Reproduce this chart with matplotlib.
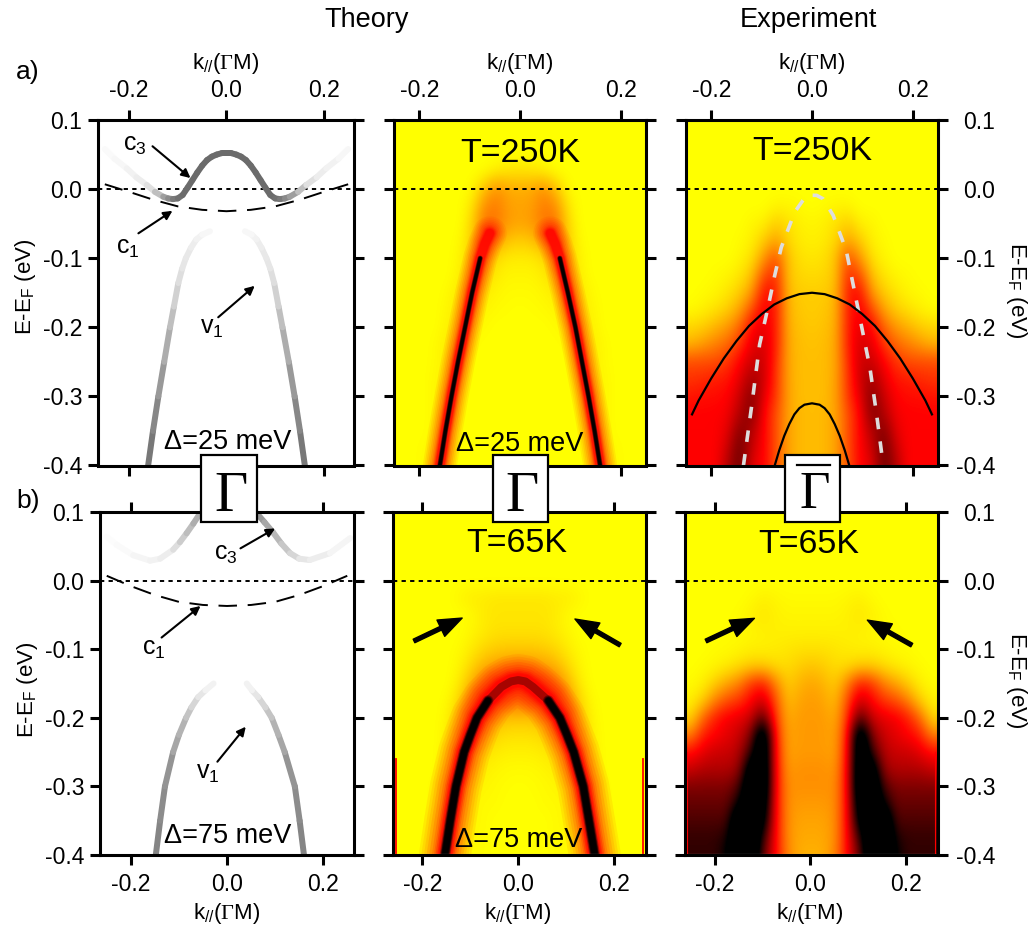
import matplotlib
matplotlib.use('Agg')
import matplotlib.pyplot as plt
import numpy as np
from matplotlib.collections import LineCollection
from matplotlib.colors import LinearSegmentedColormap
from matplotlib.patches import Rectangle

plt.rcParams['font.family'] = ['Liberation Sans', 'DejaVu Sans']
plt.rcParams['mathtext.fontset'] = 'custom'
plt.rcParams['mathtext.rm'] = 'Liberation Serif'
plt.rcParams['mathtext.sf'] = 'Liberation Sans'

W, H = 1036, 931

# Theory panel a), half bands (mirrored about k=0)
c3a_k = [0.25, 0.23, 0.205, 0.185, 0.164, 0.147, 0.13, 0.12, 0.11, 0.10, 0.09, 0.08, 0.07, 0.06, 0.05, 0.04, 0.03, 0.02, 0.01, 0.0]
c3a_E = [0.058, 0.044, 0.030, 0.017, 0.006, -0.004, -0.011, -0.0135, -0.0145, -0.0135, -0.0085, 0.002, 0.013, 0.024, 0.034, 0.042, 0.047, 0.050, 0.052, 0.052]
c3a_g = [0.98, 0.97, 0.95, 0.93, 0.88, 0.75, 0.62, 0.54, 0.48, 0.44, 0.42, 0.42, 0.42, 0.42, 0.42, 0.42, 0.42, 0.42, 0.42, 0.42]
c1a_k = [0.25, 0.2, 0.15, 0.1, 0.05, 0.0]
c1a_E = [0.007, -0.004, -0.0155, -0.025, -0.03, -0.032]
v1a_E = [-0.4, -0.35, -0.3, -0.25, -0.2, -0.17, -0.136, -0.115, -0.1, -0.085, -0.073, -0.066, -0.061]
v1a_kl = [-0.161, -0.151, -0.14, -0.128, -0.116, -0.108, -0.099, -0.091, -0.0835, -0.073, -0.062, -0.05, -0.034]
v1a_kr = [0.161, 0.151, 0.14, 0.128, 0.115, 0.107, 0.098, 0.09, 0.082, 0.072, 0.062, 0.052, 0.038]
v1a_g = [0.47, 0.53, 0.6, 0.68, 0.75, 0.82, 0.87, 0.9, 0.91, 0.93, 0.95, 0.97, 0.985]

# Theory panel b)
c3b_kl = [-0.25, -0.229, -0.195, -0.16, -0.139, -0.112, -0.098, -0.084, -0.07, -0.056]
c3b_El = [0.064, 0.052, 0.037, 0.029, 0.032, 0.045, 0.056, 0.069, 0.083, 0.098]
c3b_kr = [0.062, 0.078, 0.096, 0.113, 0.131, 0.15, 0.172, 0.214, 0.256]
c3b_Er = [0.098, 0.085, 0.07, 0.054, 0.04, 0.032, 0.03, 0.04, 0.062]
c3b_gl = [0.99, 0.98, 0.96, 0.95, 0.93, 0.87, 0.8, 0.74, 0.68, 0.6]
c3b_gr = [0.6, 0.66, 0.72, 0.78, 0.84, 0.9, 0.93, 0.96, 0.985]
c1b_k = [0.25, 0.2, 0.15, 0.1, 0.05, 0.0]
c1b_E = [0.007, -0.008, -0.021, -0.031, -0.0355, -0.037]
v1b_E = [-0.4, -0.35, -0.3, -0.25, -0.225, -0.2, -0.185, -0.17, -0.16, -0.15]
v1b_kl = [-0.148, -0.139, -0.129, -0.112, -0.1, -0.085, -0.074, -0.06, -0.045, -0.028]
v1b_kr = [0.16, 0.151, 0.141, 0.12, 0.107, 0.093, 0.08, 0.065, 0.052, 0.041]
v1b_g = [0.52, 0.55, 0.58, 0.65, 0.7, 0.77, 0.84, 0.9, 0.95, 0.985]

# Simulated bands, drawn as a glow
band250_E = [-0.4, -0.35, -0.3, -0.25, -0.2, -0.15, -0.1, -0.08, -0.064]
band250_kl = [-0.159, -0.148, -0.136, -0.123, -0.109, -0.095, -0.079, -0.07, -0.06]
band250_kr = [0.159, 0.148, 0.136, 0.123, 0.11, 0.095, 0.079, 0.07, 0.06]
band65_k = [-0.153, -0.142, -0.13, -0.113, -0.1, -0.086, -0.063, -0.035, -0.015, 0.0, 0.015, 0.031, 0.063, 0.087, 0.102, 0.116, 0.136, 0.148, 0.16]
band65_E = [-0.4, -0.35, -0.3, -0.25, -0.225, -0.2, -0.175, -0.155, -0.147, -0.145, -0.147, -0.155, -0.175, -0.2, -0.225, -0.25, -0.3, -0.35, -0.4]

# Lines over the T=250K data
white_k = [-0.136, -0.119, -0.104, -0.0875, -0.074, -0.061, -0.0345, -0.011, 0.009, 0.022, 0.042, 0.068, 0.091, 0.115, 0.128, 0.141]
white_E = [-0.4, -0.31, -0.225, -0.172, -0.125, -0.0845, -0.0335, -0.009, -0.009, -0.014, -0.038, -0.089, -0.172, -0.259, -0.325, -0.398]
outer_k = [-0.238, -0.225, -0.2, -0.175, -0.15, -0.125, -0.1, -0.075, -0.05, -0.025, 0.0,
           0.025, 0.05, 0.075, 0.1, 0.125, 0.15, 0.175, 0.2, 0.225, 0.238]
outer_E = [-0.326, -0.306, -0.274, -0.245, -0.22, -0.198, -0.181, -0.167, -0.158, -0.152, -0.15,
           -0.152, -0.158, -0.167, -0.181, -0.198, -0.22, -0.245, -0.274, -0.306, -0.326]
inner_k = [-0.074, -0.065, -0.055, -0.045, -0.035, -0.025, -0.015, 0.0, 0.015, 0.025, 0.035, 0.045, 0.055, 0.065, 0.074]
inner_E = [-0.4, -0.378, -0.357, -0.34, -0.326, -0.317, -0.312, -0.31, -0.312, -0.317, -0.326, -0.34, -0.357, -0.378, -0.4]

# Intensity grids, 0 yellow, 5 red, 10 and above black
# columns k = 0, 0.025 ... 0.25 (mirrored), rows E = 0.1, 0.075 ... -0.4
grid_sim250 = [
    [0, 0, 0, 0, 0, 0, 0, 0, 0, 0, 0],
    [0, 0, 0, 0, 0, 0, 0, 0, 0, 0, 0],
    [0, 0, 0, 0, 0, 0, 0, 0, 0, 0, 0],
    [0.6, 0.5, 0.3, 0, 0, 0, 0, 0, 0, 0, 0],
    [1.6, 1.7, 2.2, 1.2, 0.1, 0, 0, 0, 0, 0, 0],
    [1.8, 1.9, 2.6, 2.2, 0.5, 0, 0, 0, 0, 0, 0],
    [1.8, 2, 2.8, 2.8, 0.8, 0, 0, 0, 0, 0, 0],
    [1, 1.2, 2, 2.8, 1, 0.1, 0, 0, 0, 0, 0],
    [0.4, 0.4, 0.7, 1.5, 1, 0.2, 0, 0, 0, 0, 0],
    [0.2, 0.2, 0.4, 0.8, 1, 0.3, 0, 0, 0, 0, 0],
    [0.1, 0.1, 0.2, 0.4, 0.8, 0.5, 0.1, 0, 0, 0, 0],
    [0, 0.05, 0.1, 0.2, 0.4, 0.5, 0.2, 0, 0, 0, 0],
    [0, 0, 0, 0.1, 0.2, 0.4, 0.3, 0, 0, 0, 0],
    [0, 0, 0, 0, 0.1, 0.3, 0.4, 0.1, 0, 0, 0],
    [0, 0, 0, 0, 0, 0.2, 0.4, 0.1, 0, 0, 0],
    [0, 0, 0, 0, 0, 0.1, 0.3, 0.2, 0, 0, 0],
    [0, 0, 0, 0, 0, 0, 0.2, 0.2, 0, 0, 0],
    [0, 0, 0, 0, 0, 0, 0.2, 0.2, 0, 0, 0],
    [0, 0, 0, 0, 0, 0, 0.1, 0.2, 0, 0, 0],
    [0, 0, 0, 0, 0, 0, 0.1, 0.2, 0.1, 0, 0],
    [0, 0, 0, 0, 0, 0, 0.1, 0.2, 0.1, 0, 0],
]
grid_exp250 = [
    [0, 0, 0, 0, 0, 0, 0, 0, 0, 0, 0],
    [0, 0, 0, 0, 0, 0, 0, 0, 0, 0, 0],
    [0, 0, 0, 0, 0, 0, 0, 0, 0, 0, 0],
    [0, 0, 0, 0, 0, 0, 0, 0, 0, 0, 0],
    [0, 0, 0, 0, 0, 0, 0, 0, 0, 0, 0],
    [0, 0.1, 0.2, 0.2, 0, 0, 0, 0, 0, 0, 0],
    [0.2, 0.3, 0.6, 1, 0.3, 0.2, 0, 0, 0, 0, 0],
    [0.3, 0.4, 0.8, 1.8, 1, 0.3, 0.1, 0, 0, 0, 0],
    [0.5, 0.6, 1.2, 3.5, 2, 0.6, 0.2, 0, 0, 0, 0],
    [0.7, 0.8, 1.2, 4.2, 3.5, 1.2, 0.5, 0.2, 0.1, 0, 0],
    [1, 1, 1.4, 4.5, 4.8, 2, 1, 0.5, 0.2, 0.1, 0],
    [1, 1.1, 1.5, 4.5, 5.2, 3.5, 1.8, 1, 0.6, 0.3, 0.1],
    [1.1, 1.2, 1.6, 4.5, 5.5, 5, 3, 2, 1.5, 1, 0.8],
    [1.2, 1.3, 1.7, 4.5, 5.8, 5.5, 4, 3, 2.5, 2, 1.5],
    [1.3, 1.3, 1.7, 4.2, 6, 6, 5, 4, 3.5, 3.5, 3.5],
    [1.3, 1.3, 1.8, 4, 6, 6.8, 5.5, 4.6, 4.5, 4.2, 4],
    [1.3, 1.3, 1.8, 4, 5.5, 7.5, 6, 5, 4.8, 4.8, 4.6],
    [1.3, 1.4, 1.8, 3.5, 5, 7.5, 6.5, 5.2, 5, 5, 5],
    [1.3, 1.4, 1.8, 3.5, 5, 6.5, 7.5, 5.5, 5, 5, 5],
    [1.3, 1.4, 1.8, 3.5, 5, 6, 8, 6, 5, 5, 5],
    [1.3, 1.4, 1.8, 3.5, 5, 5.5, 8, 6.5, 5, 5, 5],
]
grid_sim65 = [
    [0, 0, 0, 0, 0, 0, 0, 0, 0, 0, 0],
    [0, 0, 0, 0, 0, 0, 0, 0, 0, 0, 0],
    [0, 0, 0, 0, 0, 0, 0, 0, 0, 0, 0],
    [0, 0, 0, 0, 0, 0, 0, 0, 0, 0, 0],
    [0, 0, 0, 0, 0, 0, 0, 0, 0, 0, 0],
    [0.5, 0.5, 0.5, 0.4, 0.4, 0.2, 0, 0, 0, 0, 0],
    [0.5, 0.5, 0.5, 0.4, 0.1, 0, 0, 0, 0, 0, 0],
    [0.6, 0.6, 0.6, 0.4, 0.2, 0, 0, 0, 0, 0, 0],
    [1.1, 1.1, 1, 0.8, 0.4, 0.1, 0, 0, 0, 0, 0],
    [2.2, 2.1, 1.9, 1.5, 0.8, 0.2, 0, 0, 0, 0, 0],
    [3.5, 3.5, 3.5, 2.8, 1.5, 0.4, 0, 0, 0, 0, 0],
    [3, 3, 3.2, 3.5, 2.5, 0.8, 0.1, 0, 0, 0, 0],
    [1.2, 1.2, 1.6, 2.4, 2.6, 1.2, 0.2, 0, 0, 0, 0],
    [0.6, 0.6, 0.8, 1.2, 1.8, 1.3, 0.3, 0, 0, 0, 0],
    [0.3, 0.3, 0.4, 0.6, 1, 1.2, 0.4, 0, 0, 0, 0],
    [0.1, 0.1, 0.2, 0.3, 0.6, 1, 0.6, 0, 0, 0, 0],
    [0, 0.05, 0.1, 0.2, 0.3, 0.7, 0.7, 0.1, 0, 0, 0],
    [0, 0, 0.1, 0.1, 0.2, 0.5, 0.7, 0.1, 0, 0, 0],
    [0, 0, 0, 0.1, 0.2, 0.4, 0.7, 0.2, 0, 0, 0],
    [0, 0, 0, 0.1, 0.1, 0.2, 0.7, 0.3, 0, 0, 0],
    [0, 0, 0, 0.1, 0.1, 0.2, 0.7, 0.3, 0, 0, 0],
]
grid_exp65 = [
    [0, 0, 0, 0, 0, 0, 0, 0, 0, 0, 0],
    [0, 0, 0, 0, 0, 0, 0, 0, 0, 0, 0],
    [0, 0, 0, 0, 0, 0, 0, 0, 0, 0, 0],
    [0, 0, 0, 0, 0, 0, 0, 0, 0, 0, 0],
    [0, 0, 0, 0, 0, 0, 0, 0, 0, 0, 0],
    [0.1, 0.1, 0.1, 0.2, 0.3, 0.1, 0, 0, 0, 0, 0],
    [0.2, 0.2, 0.2, 0.3, 0.5, 0.3, 0.1, 0, 0, 0, 0],
    [0.3, 0.3, 0.3, 0.3, 0.3, 0.2, 0.1, 0.1, 0, 0, 0],
    [0.6, 0.6, 0.5, 0.4, 0.3, 0.3, 0.2, 0.1, 0.1, 0, 0],
    [1.2, 1, 0.7, 0.7, 1, 1, 0.7, 0.4, 0.2, 0.1, 0],
    [1.8, 1.5, 1, 2.5, 4.5, 4, 2.5, 1.8, 1, 0.3, 0.1],
    [2, 1.8, 1.3, 3.5, 6, 5, 4, 3.5, 2.5, 1, 0.3],
    [2, 2, 1.6, 4, 8.5, 6, 5.5, 5.2, 4.5, 3, 0.8],
    [2, 2, 1.8, 4.5, 13, 7.5, 6, 5.5, 5, 4.5, 2.5],
    [2, 2, 1.8, 4.8, 13, 9, 6.5, 6, 6, 5.5, 4.8],
    [2.2, 2.2, 2, 5, 13, 12, 7, 6.5, 6.5, 6.5, 6],
    [2.2, 2.2, 2.2, 5, 13, 13, 8.5, 7.5, 7.5, 7.5, 7.5],
    [2, 2, 2.2, 5, 12, 13, 10, 8, 8, 8, 8],
    [1.8, 1.8, 2.2, 5, 11, 13, 13, 8.5, 8.5, 8.5, 8.5],
    [1.7, 1.7, 2.2, 5, 9, 13, 13, 9.5, 9, 9, 9],
    [1.5, 1.6, 2.4, 5, 8, 13, 13, 10, 9, 9, 9],
]

k_ticks = [-0.2, 0.0, 0.2]
k_labels = ['-0.2', '0.0', '0.2']
E_ticks = [0.1, 0.0, -0.1, -0.2, -0.3, -0.4]
E_labels = ['0.1', '0.0', '-0.1', '-0.2', '-0.3', '-0.4']
k_text = r'$\mathsf{k_{//}(}\mathrm{Γ}\mathsf{M)}$'
E_text = r'E-E$_\mathsf{F}$ (eV)'

yr = LinearSegmentedColormap.from_list('yr', ['#ffff00', '#ff0000', '#000000'])
px = 0.72  # one pixel in points at dpi 100


def make_axes(left, right, top, bottom, xlim, xlab_top, ylab):
    ax = fig.add_axes([left / W, 1 - bottom / H, (right - left) / W, (bottom - top) / H])
    ax.set_xlim(xlim)
    ax.set_ylim(-0.4, 0.1)
    ax.set_xticks(k_ticks, k_labels)
    ax.set_yticks(E_ticks, E_labels)
    ax.tick_params(length=7.2, width=2.2, labelsize=16.5, top=True, right=True, bottom=True, left=True,
                   labeltop=xlab_top, labelbottom=not xlab_top, labelleft=ylab == 'left', labelright=ylab == 'right')
    ax.tick_params(axis='x', pad=6)
    ax.tick_params(axis='y', pad=4)
    if ylab == 'right':
        ax.tick_params(axis='y', pad=34)
        for t in ax.get_yticklabels():
            t.set_ha('right')
    for s in ax.spines.values():
        s.set_linewidth(2.2)
    return ax


def show_grid(ax, half):
    half = np.array(half, dtype=float)
    full = np.hstack([half[:, :0:-1], half])
    x0, x1 = ax.get_xlim()
    ax.imshow(full, cmap=yr, vmin=0, vmax=10, aspect='auto', interpolation='bicubic',
              extent=(x0, x1, -0.4125, 0.1125))
    ax.set_xlim(x0, x1)
    ax.set_ylim(-0.4, 0.1)


def grey_band(ax, k, E, g, width=6):
    pts = np.column_stack([k, E])
    segs = np.stack([pts[:-1], pts[1:]], axis=1)
    cols = [str(v) for v in g[:-1]]
    ax.add_collection(LineCollection(segs, colors=cols, linewidths=width * px, capstyle='round'))


def glow(ax, k, E, w_out):
    # stacked see-through strokes: red halo, darker towards the middle
    layers = [(1, 0.07), (0.9, 0.07), (0.8, 0.08), (0.7, 0.1), (0.6, 0.12),
              (0.5, 0.15), (0.42, 0.2), (0.36, 0.3), (0.3, 0.4), (0.26, 0.5)]
    for f, a in layers:
        ax.plot(k, E, color='#ff0000', alpha=a, lw=w_out * f * px, solid_capstyle='round')


def core(ax, k, E, w_core):
    for w, a in [(w_core * 1.8, 0.3), (w_core * 1.5, 0.4), (w_core * 1.25, 0.6), (w_core, 0.9)]:
        ax.plot(k, E, color='black', alpha=a, lw=w * px, solid_capstyle='round')


def fermi(ax):
    x0, x1 = ax.get_xlim()
    ax.plot([x0, x1], [0, 0], color='black', lw=1.4, ls=(0, (2.2, 2.2)))


def note(ax, txt, tx, ty, x0, y0, x1, y1):
    ax.text(tx, ty, txt, fontsize=18, ha='center', va='center')
    ax.annotate('', xy=(x1, y1), xytext=(x0, y0),
                arrowprops=dict(arrowstyle='-|>', color='black', lw=1.5, mutation_scale=13, shrinkA=0, shrinkB=0))


def big_arrow(ax, x0, y0, x1, y1):
    ax.annotate('', xy=(x1, y1), xytext=(x0, y0),
                arrowprops=dict(width=2.8, headwidth=13, headlength=17, color='black', shrink=0))


fig = plt.figure(figsize=(W / 100, H / 100), dpi=100)

ax1 = make_axes(98, 354, 120, 465.5, (-0.264, 0.262), True, 'left')
ax2 = make_axes(394, 646, 120, 465.5, (-0.25, 0.25), True, None)
ax3 = make_axes(686, 938, 120, 465.5, (-0.25, 0.25), True, 'right')
ax4 = make_axes(100, 354, 512, 855, (-0.264, 0.264), False, 'left')
ax5 = make_axes(393, 646, 512, 855, (-0.2615, 0.267), False, None)
ax6 = make_axes(685, 938, 512, 855, (-0.262, 0.268), False, 'right')

# a) theory
fermi(ax1)
grey_band(ax1, np.r_[-np.array(c3a_k), np.array(c3a_k)[-2::-1]], np.r_[c3a_E, c3a_E[-2::-1]], np.r_[c3a_g, c3a_g[-2::-1]])
grey_band(ax1, v1a_kl, v1a_E, v1a_g)
grey_band(ax1, v1a_kr, v1a_E, v1a_g)
ax1.plot(np.r_[-np.array(c1a_k), np.array(c1a_k)[-2::-1]], np.r_[c1a_E, c1a_E[-2::-1]], color='black', lw=1.4, ls=(0, (9.5, 5.5)))
note(ax1, r'$\mathsf{c_3}$', -0.188, 0.064, -0.152, 0.062, -0.074, 0.016)
note(ax1, r'$\mathsf{c_1}$', -0.202, -0.0855, -0.181, -0.064, -0.111, -0.0314)
note(ax1, r'$\mathsf{v_1}$', -0.031, -0.2015, -0.017, -0.1855, 0.058, -0.14)
ax1.text(0.003, -0.366, 'Δ=25 meV', fontsize=19.5, ha='center', va='center')

# a) simulation
show_grid(ax2, grid_sim250)
glow(ax2, band250_kl, band250_E, 34)
glow(ax2, band250_kr, band250_E, 34)
core(ax2, band250_kl[:7], band250_E[:7], 3)
core(ax2, band250_kr[:7], band250_E[:7], 3)
fermi(ax2)
ax2.text(0, 0.052, 'T=250K', fontsize=24.5, ha='center', va='center')
ax2.text(0, -0.369, 'Δ=25 meV', fontsize=19.5, ha='center', va='center')

# a) experiment
show_grid(ax3, grid_exp250)
fermi(ax3)
ax3.plot(white_k, white_E, color='#dddddd', lw=2.6, ls=(0, (3.2, 3.4)))
ax3.plot(outer_k, outer_E, color='black', lw=1.6)
ax3.plot(inner_k, inner_E, color='black', lw=1.6)
ax3.text(0, 0.055, 'T=250K', fontsize=24.5, ha='center', va='center')

# b) theory
fermi(ax4)
grey_band(ax4, c3b_kl, c3b_El, c3b_gl)
grey_band(ax4, c3b_kr, c3b_Er, c3b_gr)
grey_band(ax4, v1b_kl, v1b_E, v1b_g)
grey_band(ax4, v1b_kr, v1b_E, v1b_g)
ax4.plot(np.r_[-np.array(c1b_k), np.array(c1b_k)[-2::-1]], np.r_[c1b_E, c1b_E[-2::-1]], color='black', lw=1.4, ls=(0, (9.5, 5.5)))
note(ax4, r'$\mathsf{c_3}$', -0.002, 0.039, 0.028, 0.047, 0.1, 0.076)
note(ax4, r'$\mathsf{c_1}$', -0.152, -0.0997, -0.136, -0.083, -0.055, -0.037)
note(ax4, r'$\mathsf{v_1}$', -0.039, -0.281, -0.02, -0.264, 0.039, -0.213)
ax4.text(0.002, -0.373, 'Δ=75 meV', fontsize=19.5, ha='center', va='center')

# b) simulation
show_grid(ax5, grid_sim65)
glow(ax5, band65_k, band65_E, 52)
ax5.plot(band65_k, band65_E, color='black', alpha=0.35, lw=8 * px)
core(ax5, band65_k[:7], band65_E[:7], 6)
core(ax5, band65_k[12:], band65_E[12:], 6)
ax5.plot([-0.256, -0.256], [-0.4, -0.26], color='#ff0000', lw=1.3)
ax5.plot([0.261, 0.261], [-0.4, -0.26], color='#ff0000', lw=1.3)
ax5.plot([-0.2615, 0.267], [-0.398, -0.398], color='white', lw=0.8)
fermi(ax5)
big_arrow(ax5, -0.2176, -0.088, -0.117, -0.0546)
big_arrow(ax5, 0.213, -0.094, 0.1186, -0.056)
ax5.text(-0.003, 0.0537, 'T=65K', fontsize=24.5, ha='center', va='center')
ax5.text(0.002, -0.3776, 'Δ=75 meV', fontsize=19.5, ha='center', va='center')

# b) experiment
show_grid(ax6, grid_exp65)
ax6.plot([-0.258, -0.258], [-0.4, -0.25], color='#ff0000', lw=0.8)
ax6.plot([0.262, 0.262], [-0.4, -0.25], color='#ff0000', lw=0.8)
ax6.plot([-0.262, 0.268], [-0.398, -0.398], color='#eeeeee', lw=0.8)
fermi(ax6)
big_arrow(ax6, -0.218, -0.088, -0.1166, -0.055)
big_arrow(ax6, 0.213, -0.094, 0.12, -0.0576)
ax6.text(-0.003, 0.052, 'T=65K', fontsize=24.5, ha='center', va='center')


# labels in figure pixels
def ftext(x, y, s, **kw):
    fig.text(x / W, 1 - y / H, s, ha='center', va='center', **kw)


ftext(367, 20, 'Theory', fontsize=19.5)
ftext(808, 20, 'Experiment', fontsize=19.5)
ftext(28, 72, 'a)', fontsize=19)
ftext(28, 501, 'b)', fontsize=19)
for x in [226, 520, 812]:
    ftext(x, 63, k_text, fontsize=16)
for x in [227, 518, 810]:
    ftext(x, 913, k_text, fontsize=16)
ftext(25, 287, E_text, fontsize=16, rotation=90)
ftext(27, 690, E_text, fontsize=16, rotation=90)
ftext(1017, 290, E_text, fontsize=16, rotation=270)
ftext(1017, 680, E_text, fontsize=16, rotation=270)

# Gamma boxes across both rows
gamma_boxes = [(201, 257, 231, 511, 41.5), (493, 548, 522, 511, 41.5), (785, 840, 815, 508, 38)]
for x0, x1, gx, gy, fs in gamma_boxes:
    fig.add_artist(Rectangle((x0 / W, 1 - 522 / H), (x1 - x0) / W, 67 / H, transform=fig.transFigure,
                             facecolor='white', edgecolor='black', lw=1.6, zorder=10))
    fig.text(gx / W, 1 - gy / H, 'Γ', family='Liberation Serif', fontsize=fs,
             ha='center', va='baseline', zorder=11)
fig.add_artist(plt.Line2D([797 / W, 830 / W], [1 - 465 / H, 1 - 465 / H], color='black', lw=1.6, zorder=11))

plt.savefig('out.png', dpi=100)
plt.close()
